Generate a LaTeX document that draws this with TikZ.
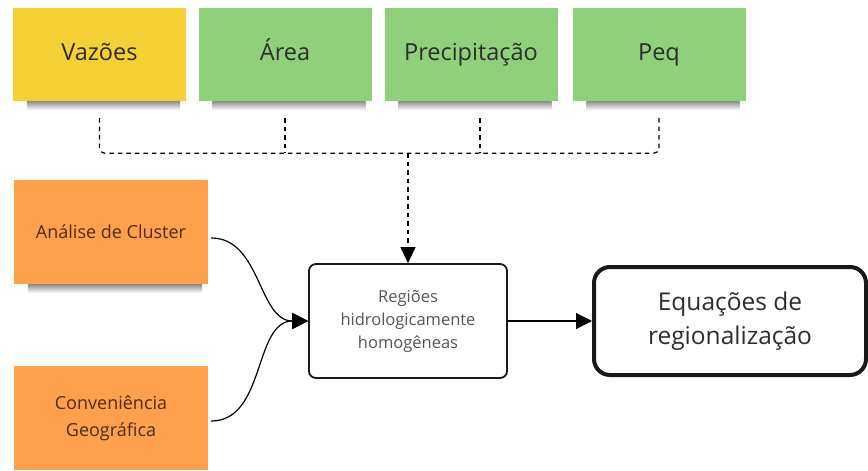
\documentclass[tikz,border=0pt]{standalone}
\usepackage{fontspec}
\setmainfont{Open Sans}
\usetikzlibrary{arrows.meta}

\definecolor{noteyellow}{RGB}{245,208,52}
\definecolor{notegreen}{RGB}{143,208,122}
\definecolor{noteorange}{RGB}{255,160,76}
\definecolor{inkdark}{RGB}{45,45,45}
\definecolor{inkbrown}{RGB}{75,45,25}
\definecolor{inkgrey}{RGB}{85,85,85}

\begin{document}
\begin{tikzpicture}[x=1pt,y=-1pt,
        note/.style={minimum width=173pt,minimum height=93pt,inner sep=0pt,
            text height=17pt,text depth=5pt,
            text=inkdark,font=\fontsize{23.5}{28}\selectfont},
        sidenote/.style={fill=noteorange,minimum width=194pt,minimum height=104pt,
            inner sep=0pt,align=center,text=inkbrown,font=\fontsize{18}{27}\selectfont},
        proc/.style={draw=black!90,line width=1.8pt,rounded corners=7pt,
            minimum width=198pt,minimum height=114pt,align=center,
            text=inkgrey,font=\fontsize{16.5}{23}\selectfont},
        result/.style={draw=black!90,line width=4pt,rounded corners=16pt,
            minimum width=272pt,minimum height=108pt,align=center,
            text=inkdark,font=\fontsize{24.5}{34}\selectfont},
        link/.style={line width=1.2pt,-{Triangle[length=16pt,width=16pt]}},
        bus/.style={line width=1.2pt,dash pattern=on 4.5pt off 4pt},
        notedrop/.style={top color=black!45,bottom color=white}]

                \useasboundingbox (0,0) rectangle (868,471);

                % sticky notes
                \node[note,fill=noteyellow] (vaz) at (99.5,54.5) {Vazões};
                \node[note,fill=notegreen] (area) at (285,54.5) {Área};
                \node[note,fill=notegreen] (prec) at (471,54.5) {Precipitação};
                \node[note,fill=notegreen] (peq) at (659,54.5) {Peq};
                \node[sidenote] (clu) at (111,232) {Análise de Cluster};
                \node[sidenote] (geo) at (111,418) {Conveniência\\Geográfica};

                \foreach \n in {vaz,area,prec,peq,clu}
                    \shade[notedrop] ([xshift=14pt]\n.south west)
                        rectangle ([xshift=-6pt,yshift=-9pt]\n.south east);

                % boxes
                \node[proc] (reg) at (408,321) {Regiões\\hidrologicamente\\homogêneas};
                \node[result] (eq) at (730,321) {Equações de\\regionalização};

                % dashed bus
                \coordinate (vazS) at ([yshift=-17pt]vaz.south);
                \coordinate (areaS) at ([yshift=-17pt]area.south);
                \coordinate (precS) at ([xshift=9pt,yshift=-17pt]prec.south);
                \coordinate (peqS) at ([yshift=-17pt]peq.south);
                \coordinate (busy) at ([yshift=-52pt]vaz.south);
                \draw[bus,rounded corners=5pt] (vazS) |- (peqS |- busy) -- (peqS);
                \draw[bus] (areaS) -- (areaS |- busy);
                \draw[bus] (precS) -- (precS |- busy);
                \draw[bus,-{Triangle[length=16pt,width=15pt]}] (reg.north |- busy) -- (reg.north);

                % arrows
                \draw[link] ([xshift=3pt,yshift=-6pt]clu.east) to[out=0,in=180] (reg.west);
                \draw[link] ([xshift=3pt,yshift=-3pt]geo.east) to[out=0,in=180] (reg.west);
                \draw[link] (reg) -- (eq);
            \end{tikzpicture}
\end{document}
